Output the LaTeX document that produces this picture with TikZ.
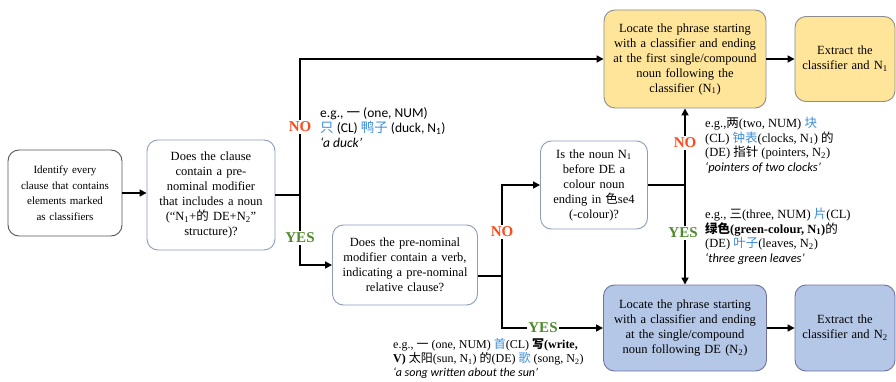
\documentclass[tikz,border=0pt]{standalone}
\usepackage{fontspec}
\setmainfont{Liberation Serif}
\newfontfamily\calib{Carlito}
\newfontfamily\cjk{Noto Sans CJK SC}
\usetikzlibrary{arrows.meta}
\definecolor{noRed}{HTML}{FF4A1C}
\definecolor{yesGreen}{HTML}{4E8A2A}
\definecolor{zhBlue}{HTML}{3C8DDB}
\definecolor{yellowFill}{HTML}{FFE59A}
\definecolor{blueFill}{HTML}{B4C7E7}
\definecolor{qBorder}{HTML}{8A9DBA}
\definecolor{startBorder}{HTML}{555555}
\definecolor{fillBorder}{HTML}{8C8C8C}
\newcommand\zh[1]{{\cjk #1}}
\newcommand\zb[1]{\textcolor{zhBlue}{\cjk #1}}
\begin{document}
\begin{tikzpicture}[x=1pt,y=-1pt,
  box/.style={rounded corners=11pt, align=center, inner sep=2pt, line width=0.9pt,
              font=\fontsize{12.5}{15}\selectfont},
  startbox/.style={box, draw=startBorder, fill=white, font=\fontsize{11}{15.5}\selectfont},
  qbox/.style={box, draw=qBorder, fill=white},
  ybox/.style={box, draw=fillBorder, fill=yellowFill},
  bbox/.style={box, draw=fillBorder!80!blue, fill=blueFill},
  wire/.style={line width=1.6pt},
  conn/.style={line width=1.6pt, -{Triangle[length=7pt,width=7pt]}},
  nolbl/.style={text=noRed, font=\fontsize{15}{15}\selectfont\bfseries, fill=white, inner sep=1.5pt},
  yeslbl/.style={text=yesGreen, font=\fontsize{15}{15}\selectfont\bfseries, fill=white, inner sep=1.5pt},
  ex/.style={anchor=north west, align=left, inner sep=0pt, font=\fontsize{12.5}{14.5}\selectfont}]

\useasboundingbox (0,0) rectangle (896,382);

% boxes
\node[startbox, minimum width=114, minimum height=86, text width=108] (id) at (65,193)
  {Identify every\\clause that contains\\elements marked\\as classifiers};
\node[qbox, minimum width=128, minimum height=110, text width=122] (q1) at (211,195)
  {Does the clause\\contain a pre-\\nominal modifier\\that includes a noun\\(“N\textsubscript{1}+\zh{的} DE+N\textsubscript{2}”\\structure)?};
\node[qbox, minimum width=145, minimum height=80, text width=140] (q2) at (405,265)
  {Does the pre-nominal\\modifier contain a verb,\\indicating a pre-nominal\\relative clause?};
\node[qbox, minimum width=107, minimum height=88, text width=102] (q3) at (594,185)
  {Is the noun N\textsubscript{1}\\before DE a\\colour noun\\ending in \zh{色}se4\\(-colour)?};
\node[ybox, minimum width=162, minimum height=98, text width=158] (loc1) at (685,59)
  {Locate the phrase starting\\with a classifier and ending\\at the first single/compound\\noun following the\\classifier (N\textsubscript{1})};
\node[ybox, minimum width=100, minimum height=85, text width=96] (ext1) at (845,59)
  {Extract the\\classifier and N\textsubscript{1}};
\node[bbox, minimum width=163, minimum height=86, text width=158] (loc2) at (685,328)
  {Locate the phrase starting\\with a classifier and ending\\at the single/compound\\noun following DE (N\textsubscript{2})};
\node[bbox, minimum width=100, minimum height=86, text width=96] (ext2) at (845,328)
  {Extract the\\classifier and N\textsubscript{2}};

% junctions
\coordinate (j1) at (300,195);
\coordinate (j2) at (502,276);
\coordinate (j3) at (685,185);

% connectors
\draw[conn] (id.east) -- (id.east -| q1.west);
\draw[wire] (q1.east) -- (j1);
\draw[conn] (j1) |- (loc1.west);
\draw[conn] (j1) |- (q2.west);
\draw[wire] (j2 -| q2.east) -- (j2);
\draw[conn] (j2) |- (q3.west);
\draw[conn] (j2) |- (loc2.west);
\draw[wire] (q3.east) -- (j3);
\draw[conn] (j3) -- (loc1.south);
\draw[conn] (j3) -- (loc2.north);
\draw[conn] (loc1) -- (ext1);
\draw[conn] (loc2) -- (ext2);

% labels
\node[nolbl] (no1) at (300,127) {NO};
\node[yeslbl] (yes1) at (300,238) {YES};
\node[nolbl] (no2) at (502,232) {NO};
\node[yeslbl] (yes2) at (543,328) {YES};
\node[nolbl] (no3) at (685,143) {NO};
\node[yeslbl] (yes3) at (683,233) {YES};

% examples
\node[ex, font=\calib\fontsize{13.5}{15}\selectfont] (ex1) at (320,107)
  {e.g., \zh{一} (one, NUM)\\
   \zb{只} (CL) \zb{鸭子} (duck, N\textsubscript{1})\\
   \itshape ‘a duck’};
\node[ex] (ex2) at (705,117)
  {e.g.,\zh{两}(two, NUM) \zb{块}\\
   (CL) \zb{钟表}(clocks, N\textsubscript{1}) \zh{的}\\
   (DE) \zh{指针} (pointers, N\textsubscript{2})\\
   {\calib\itshape ‘pointers of two clocks’}};
\node[ex] (ex3) at (705,208)
  {e.g., \zh{三}(three, NUM) \zb{片}(CL)\\
   \textbf{\zh{绿色}(green-colour, N\textsubscript{1})}\zh{的}\\
   (DE) \zb{叶子}(leaves, N\textsubscript{2})\\
   {\calib\itshape ‘three green leaves’}};
\node[ex, font=\fontsize{12}{14}\selectfont] (ex4) at (393,338)
  {e.g., \zh{一} (one, NUM) \zb{首}(CL) \textbf{\zh{写}(write,}\\
   \textbf{V)} \zh{太阳}(sun, N\textsubscript{1}) \zh{的}(DE) \zb{歌} (song, N\textsubscript{2})\\
   {\calib\itshape ‘a song written about the sun’}};
\end{tikzpicture}
\end{document}
